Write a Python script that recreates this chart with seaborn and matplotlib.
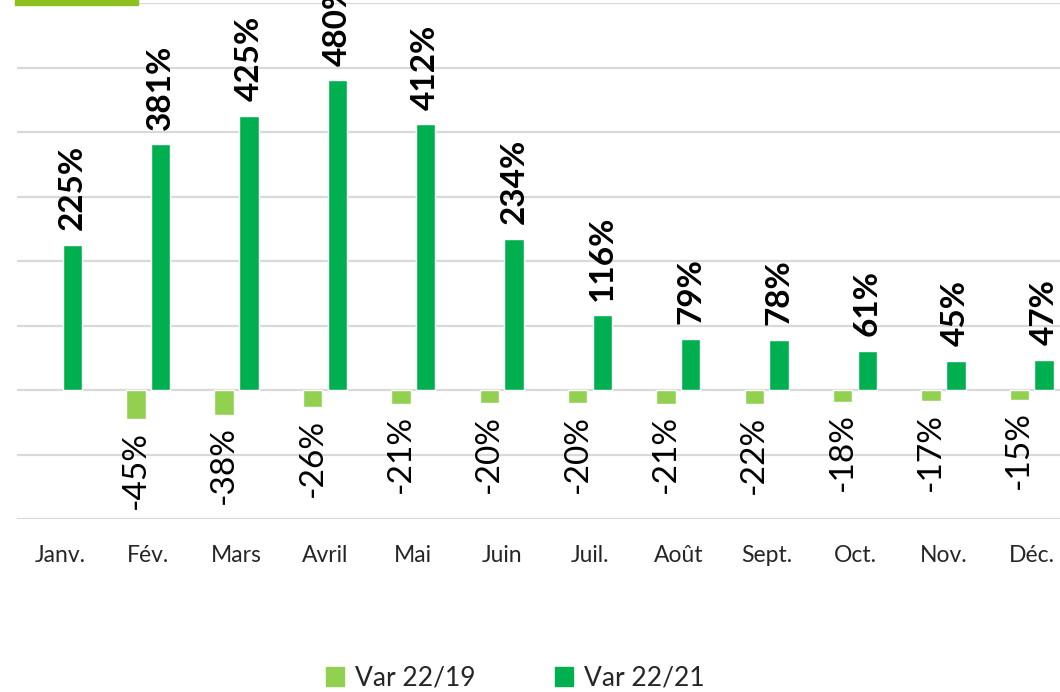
import numpy as np
import pandas as pd
import matplotlib
matplotlib.use("Agg")
import matplotlib.pyplot as plt
from matplotlib.patches import Rectangle
import seaborn as sns

# monthly variations (%)
months = ["Janv.", "Fév.", "Mars", "Avril", "Mai", "Juin",
          "Juil.", "Août", "Sept.", "Oct.", "Nov.", "Déc."]
var_22_19 = [np.nan, -45, -38, -26, -21, -20, -20, -21, -22, -18, -17, -15]
var_22_21 = [225, 381, 425, 480, 412, 234, 116, 79, 78, 61, 45, 47]
series = ["Var 22/19", "Var 22/21"]
colors = ["#92D050", "#00B050"]

df = pd.DataFrame({
    "mois": months * 2,
    "serie": [series[0]] * 12 + [series[1]] * 12,
    "valeur": var_22_19 + var_22_21,
})

sns.set_style("white")
plt.rcParams["font.family"] = ["Lato", "DejaVu Sans"]

fig = plt.figure(figsize=(10.6, 6.92), dpi=100)
ax = fig.add_axes([17 / 1060, 173 / 692, 1043 / 1060, 516 / 692])

sns.barplot(data=df, x="mois", y="valeur", hue="serie", order=months,
            hue_order=series, palette=colors, width=0.56, gap=0.21,
            errorbar=None, ax=ax, saturation=1)

ax.set_xlim(-0.486, 11.32)
ax.set_ylim(-200, 600)
ax.set_yticks(range(-200, 601, 100))
ax.yaxis.grid(True, color="#D9D9D9", linewidth=1.6)
ax.set_axisbelow(True)
ax.tick_params(axis="y", left=False, labelleft=False)
ax.tick_params(axis="x", bottom=False, labelsize=16.5, pad=15, colors="#262626")
ax.set_xlabel("")
ax.set_ylabel("")
for s in ax.spines.values():
    s.set_visible(False)

fmt = lambda v: f"{v:.0f}%" if np.isfinite(v) else ""
ax.bar_label(ax.containers[0], fmt=fmt, rotation=90, padding=8.5,
             fontsize=24, color="black")
ax.bar_label(ax.containers[1], fmt=fmt, rotation=90, padding=10.5,
             fontsize=24, fontweight="bold", color="black")

ax.legend_.remove()
handles = [Rectangle((0, 0), 1, 1, color=c) for c in colors]
fig.legend(handles, series, loc="center", bbox_to_anchor=(515 / 1060, 1 - 678 / 692),
           ncol=2, frameon=False, fontsize=19, handlelength=0.7, handleheight=0.7,
           handletextpad=0.4, columnspacing=3.0)

# cut-off title tag at the top left
fig.patches.append(Rectangle((15 / 1060, 1 - 5 / 692), 123 / 1060, 0.05,
                             transform=fig.transFigure, color="#8CC11F"))

fig.savefig("out.png", dpi=100)
